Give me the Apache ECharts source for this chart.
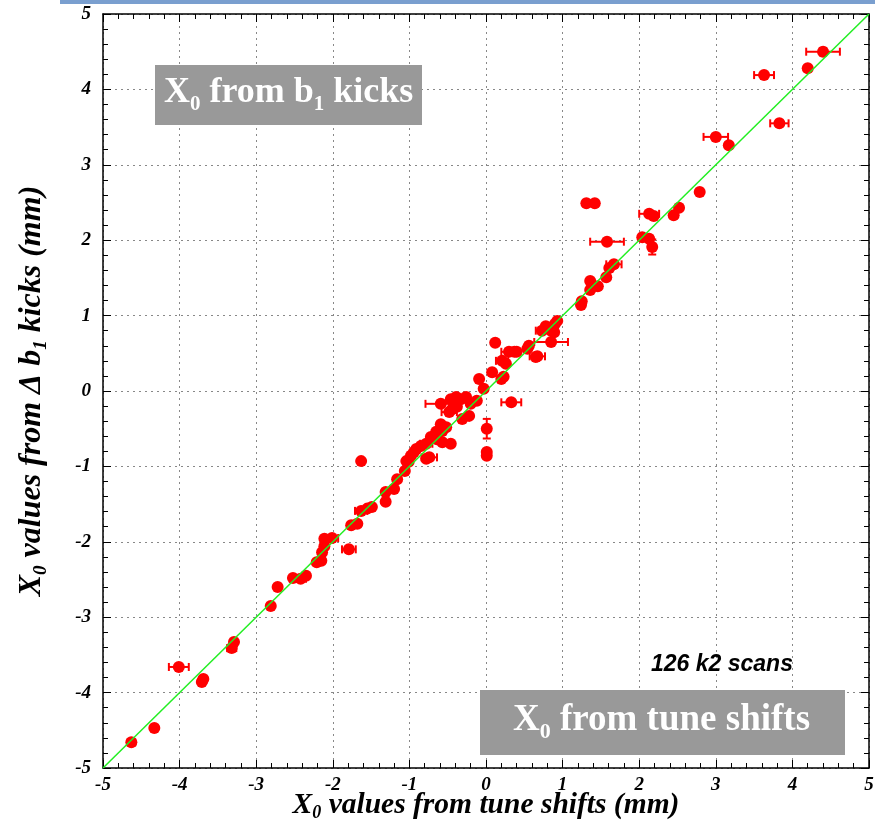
<!DOCTYPE html>
<html>
<head>
<meta charset="utf-8">
<script src="https://cdn.jsdelivr.net/npm/echarts@6/dist/echarts.min.js"></script>
<style>html,body{margin:0;padding:0;background:#fff}#c{width:875px;height:826px}</style>
</head>
<body>
<div id="c"></div>
<script>
// X0 from tune shifts (mm)
const xs = [4.40,4.20,3.63,3.83,3.00,3.17,2.79,2.52,2.45,2.13,2.19,1.31,1.42,1.58,2.04,2.13,2.17,1.67,1.61,1.57,
  1.36,1.46,1.36,1.25,1.24,0.93,0.90,0.78,0.73,0.85,0.89,0.85,0.56,0.54,0.12,0.37,0.40,0.30,0.67,0.65,
  0.21,0.26,0.08,0.20,0.23,-0.09,-0.03,0.33,0.01,0.01,0.01,-0.59,-0.46,-0.39,-0.33,-0.26,-0.44,-0.38,-0.20,-0.12,
  -0.22,-0.31,-0.48,-0.59,-0.52,-0.65,-0.57,-0.72,-0.64,-0.57,-0.46,-0.78,-0.85,-0.74,-0.94,-0.98,-0.91,-1.04,-1.01,-0.78,
  -1.63,-1.06,-1.16,-1.20,-1.31,-1.31,-1.49,-1.55,-1.63,-1.68,-1.76,-2.01,-2.11,-1.79,-2.11,-2.14,-2.15,-2.21,-2.35,-2.42,
  -2.52,-2.72,-2.81,-3.29,-3.32,-4.01,-3.69,-3.71,-4.33,-4.63];
// X0 from delta b1 kicks (mm)
const ys = [4.50,4.28,4.19,3.55,3.37,3.26,2.64,2.43,2.33,2.35,2.32,2.49,2.49,1.98,2.04,2.02,1.91,1.68,1.63,1.51,
  1.46,1.39,1.34,1.19,1.14,0.93,0.89,0.86,0.80,0.80,0.78,0.65,0.60,0.56,0.64,0.52,0.52,0.52,0.46,0.45,
  0.40,0.36,0.25,0.16,0.19,0.16,0.03,-0.15,-0.50,-0.81,-0.86,-0.17,-0.11,-0.08,-0.11,-0.08,-0.24,-0.21,-0.17,-0.13,
  -0.33,-0.37,-0.28,-0.44,-0.48,-0.54,-0.53,-0.61,-0.64,-0.68,-0.70,-0.70,-0.73,-0.88,-0.81,-0.86,-0.77,-0.93,-0.94,-0.90,
  -0.93,-1.06,-1.17,-1.30,-1.34,-1.47,-1.54,-1.56,-1.59,-1.76,-1.78,-1.95,-1.96,-2.10,-2.06,-2.14,-2.25,-2.27,-2.45,-2.49,
  -2.48,-2.60,-2.85,-3.33,-3.41,-3.66,-3.82,-3.86,-4.47,-4.66];
// horizontal (x) errors
const xErr = [0.22,0,0.13,0.12,0.16,0,0,0,0,0.13,0,0,0,0.22,0,0,0,0.10,0,0,
  0,0,0,0,0,0,0,0,0.08,0,0,0.22,0,0,0,0,0,0.10,0.10,0,
  0.08,0,0,0,0,0,0,0.13,0,0,0,0.20,0,0,0,0,0,0,0,0,
  0,0,0.10,0,0,0,0,0,0,0,0,0.08,0,0.10,0,0,0,0,0,0,
  0,0,0,0,0,0,0,0,0.08,0,0,0.08,0,0.09,0,0,0,0,0,0.07,
  0,0,0,0,0.06,0.13,0,0,0,0.05];
// vertical (y) errors
const yErr = [0.05,0,0,0,0,0,0,0,0,0,0,0,0,0,0,0,0.10,0,0,0,
  0,0,0,0,0,0,0,0,0,0,0,0,0,0,0,0,0,0,0,0,
  0,0,0,0,0,0,0,0,0.13,0,0,0,0,0,0,0,0,0,0,0,
  0,0,0,0,0,0,0,0,0,0,0,0,0,0,0,0,0,0,0,0,
  0,0,0,0,0,0,0,0,0,0,0,0,0,0,0,0,0,0,0,0,
  0,0,0,0,0,0,0,0,0,0];
const tickLabels = ['-5','-4','-3','-2','-1','0','1','2','3','4','5'];
const diagonal = [[-5,-5],[5,5]];

const pts = xs.map((x,i)=>[x, ys[i]]);
const errData = xs.map((x,i)=>[x, ys[i], xErr[i], yErr[i]]);

const serif = 'Liberation Serif';
const labelStyle = {fontFamily: serif, fontStyle:'italic', fontWeight:'bold', fontSize:19, color:'#000'};
function axisCommon(extra){
  return Object.assign({
    type:'value', min:-5, max:5, interval:1,
    axisLine:{show:true, onZero:false, lineStyle:{color:'#000', width:1.5}},
    axisTick:{show:true, inside:true, length:8, lineStyle:{color:'#000', width:1}},
    minorTick:{show:true, splitNumber:5, length:5, lineStyle:{color:'#000', width:1}},
    splitLine:{show:false},
    minorSplitLine:{show:false}
  }, extra);
}
const idx = v => tickLabels[Math.round(v)+5];
function titleRich(sz){
  return {
    b:{fontFamily:serif, fontStyle:'italic', fontWeight:'bold', fontSize:sz, color:'#000', lineHeight:30},
    s:{fontFamily:serif, fontStyle:'italic', fontWeight:'bold', fontSize:Math.round(sz*0.6), color:'#000', lineHeight:30, padding:[Math.round(sz*0.55),0,0,0]}
  };
}

const chart = echarts.init(document.getElementById('c'), null, {renderer:'canvas'});
chart.setOption({
  animation:false,
  backgroundColor:'#fff',
  grid:{left:103, top:14, right:6, bottom:58, outerBoundsMode:'none', containLabel:false},
  xAxis:[
    axisCommon({position:'bottom',
      axisLabel:Object.assign({margin:8, formatter:idx, showMinLabel:true, showMaxLabel:true}, labelStyle),
      splitLine:{show:true, lineStyle:{color:'#888', type:[2,4], width:1}},
      name:'{b|X}{s|0}{b| values from tune shifts (mm)}', nameLocation:'middle', nameGap:22, nameMoveOverlap:false,
      nameTextStyle:{rich:titleRich(29.5)}
    }),
    axisCommon({position:'top', axisLabel:{show:false}})
  ],
  yAxis:[
    axisCommon({position:'left',
      axisLabel:Object.assign({margin:12, formatter:idx, showMinLabel:true, showMaxLabel:true}, labelStyle),
      splitLine:{show:true, lineStyle:{color:'#888', type:[2,4], width:1}},
      name:'{b|X}{s|0}{b| values from \u0394 b}{s|1}{b| kicks (mm)}', nameLocation:'middle', nameGap:56, nameMoveOverlap:false,
      nameTextStyle:{rich:titleRich(32)}
    }),
    axisCommon({position:'right', axisLabel:{show:false}})
  ],
  series:[
    {
      type:'custom', xAxisIndex:0, yAxisIndex:0, z:3,
      data:errData,
      renderItem:function(params, api){
        const x = api.value(0), y = api.value(1), ex = api.value(2), ey = api.value(3);
        const children = [];
        const st = {stroke:'#ff0000', lineWidth:2};
        const cap = 4;
        if (ex > 0){
          const a = api.coord([x-ex, y]), b = api.coord([x+ex, y]);
          children.push({type:'line', shape:{x1:a[0],y1:a[1],x2:b[0],y2:b[1]}, style:st});
          children.push({type:'line', shape:{x1:a[0],y1:a[1]-cap,x2:a[0],y2:a[1]+cap}, style:st});
          children.push({type:'line', shape:{x1:b[0],y1:b[1]-cap,x2:b[0],y2:b[1]+cap}, style:st});
        }
        if (ey > 0){
          const a = api.coord([x, y-ey]), b = api.coord([x, y+ey]);
          children.push({type:'line', shape:{x1:a[0],y1:a[1],x2:b[0],y2:b[1]}, style:st});
          children.push({type:'line', shape:{x1:a[0]-cap,y1:a[1],x2:a[0]+cap,y2:a[1]}, style:st});
          children.push({type:'line', shape:{x1:b[0]-cap,y1:b[1],x2:b[0]+cap,y2:b[1]}, style:st});
        }
        return {type:'group', children:children};
      }
    },
    {
      type:'scatter', xAxisIndex:0, yAxisIndex:0, z:4,
      data:pts, symbol:'circle', symbolSize:12,
      itemStyle:{color:'#ff0000', opacity:1},
      emphasis:{disabled:true}
    },
    {
      type:'line', xAxisIndex:0, yAxisIndex:0, z:5,
      data:diagonal, symbol:'none',
      lineStyle:{color:'#22ee22', width:1.5}
    }
  ],
  graphic:[
    {type:'rect', left:60, top:0, shape:{width:815, height:4}, style:{fill:'#7a9fcf'}, z:10},
    {type:'rect', left:155, top:65, shape:{width:267, height:60}, style:{fill:'#999999'}, z:10},
    {type:'text', left:164, top:70, z:11, style:{
      text:'{b|X}{s|0}{b| from b}{s|1}{b| kicks}',
      rich:{
        b:{fontFamily:serif, fontWeight:'bold', fontSize:36, fill:'#fff', lineHeight:46},
        s:{fontFamily:serif, fontWeight:'bold', fontSize:21, fill:'#fff', lineHeight:46, padding:[24,0,0,0]}
      }}},
    {type:'rect', left:480, top:690, shape:{width:365, height:65}, style:{fill:'#999999'}, z:10},
    {type:'text', left:513, top:697, z:11, style:{
      text:'{b|X}{s|0}{b| from tune shifts}',
      rich:{
        b:{fontFamily:serif, fontWeight:'bold', fontSize:37, fill:'#fff', lineHeight:46},
        s:{fontFamily:serif, fontWeight:'bold', fontSize:22, fill:'#fff', lineHeight:46, padding:[24,0,0,0]}
      }}},
    {type:'text', left:651, top:653, z:11, style:{
      text:'126 k2 scans', fontFamily:'Liberation Sans', fontStyle:'italic', fontWeight:'bold', fontSize:23, fill:'#000'}}
  ]
});
</script>
</body>
</html>
